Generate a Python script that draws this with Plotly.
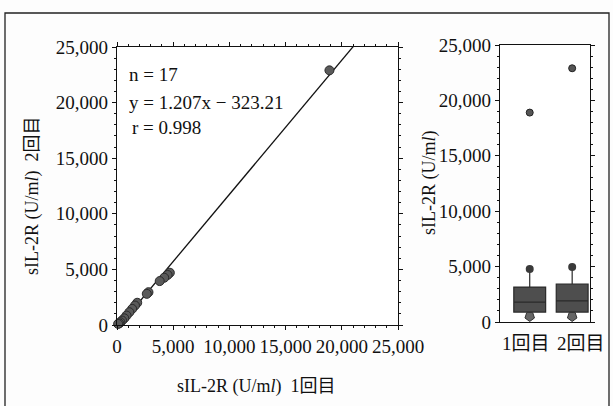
import plotly.graph_objects as go

W, H = 613, 406

# --- data ---
first_visit = [18900, 4700, 4500, 4200, 3800, 2800, 2650, 1800, 1600, 1350, 1100, 850, 650, 450, 300, 200, 100]
second_visit = [22900, 4700, 4500, 4250, 3950, 2950, 2800, 2000, 1750, 1450, 1150, 850, 600, 400, 250, 150, 100]
slope = 1.207
intercept = -323.21
line_x = [268, 25000]

box_cats = [0, 1]
box_labels = ["1回目", "2回目"]
box_q1 = [900, 900]
box_median = [1800, 1900]
box_q3 = [3150, 3430]
box_low = [500, 500]
box_high = [4780, 4960]
box_outliers = [18900, 22900]

tick_vals = [0, 5000, 10000, 15000, 20000, 25000]
tick_text = ["0", "5,000", "10,000", "15,000", "20,000", "25,000"]

SERIF = "Liberation Serif, Noto Sans CJK JP"
JP = "Liberation Serif, Noto Sans CJK JP"

def fx(px):
    return px / W

def fy(py):
    return 1 - py / H

fig = go.Figure()

# regression line
fig.add_trace(go.Scatter(
    x=line_x, y=[slope * v + intercept for v in line_x],
    mode="lines", line=dict(color="#111", width=1.3),
    xaxis="x", yaxis="y", showlegend=False, hoverinfo="skip", cliponaxis=True))

# scatter points
fig.add_trace(go.Scatter(
    x=first_visit, y=second_visit, mode="markers",
    marker=dict(size=9, color="#5a5a5a", line=dict(color="#2a2a2a", width=1)),
    xaxis="x", yaxis="y", showlegend=False, cliponaxis=False))

# box plot
fig.add_trace(go.Box(
    x=box_cats, q1=box_q1, median=box_median, q3=box_q3,
    lowerfence=box_low, upperfence=box_high,
    fillcolor="#4e4e4e", line=dict(color="#2a2a2a", width=1.2),
    whiskerwidth=0, width=0.75, boxpoints=False,
    xaxis="x2", yaxis="y2", showlegend=False))

# whisker end markers
fig.add_trace(go.Scatter(
    x=box_cats, y=box_high, mode="markers",
    marker=dict(size=8, color="#3a3a3a", symbol="circle"),
    xaxis="x2", yaxis="y2", showlegend=False, cliponaxis=False))
fig.add_trace(go.Scatter(
    x=box_cats, y=box_low, mode="markers",
    marker=dict(size=10, color="#666", symbol="pentagon", angle=180,
                line=dict(color="#333", width=1)),
    xaxis="x2", yaxis="y2", showlegend=False, cliponaxis=False))
# outliers
fig.add_trace(go.Scatter(
    x=box_cats, y=box_outliers, mode="markers",
    marker=dict(size=7, color="#555", line=dict(color="#222", width=1)),
    xaxis="x2", yaxis="y2", showlegend=False, cliponaxis=False))

axis_common = dict(
    showgrid=False, zeroline=False, showline=True, linecolor="#111", linewidth=1.3,
    mirror="ticks", ticks="outside", ticklen=4, tickcolor="#111", tickangle=0,
    automargin=False,
    tickfont=dict(family=SERIF, size=19, color="#111"),
)

fig.update_layout(
    width=W, height=H,
    margin=dict(l=0, r=0, t=0, b=0, autoexpand=False),
    paper_bgcolor="#fdfdfd", plot_bgcolor="#ffffff",
    xaxis=dict(domain=[fx(117), fx(398)], range=[0, 25000], anchor="y",
               tickvals=tick_vals, ticktext=tick_text,
               minor=dict(dtick=1000, ticklen=2, ticks="outside", tickcolor="#111"),
               **axis_common),
    yaxis=dict(domain=[fy(325), fy(47)], range=[0, 25000], anchor="x",
               tickvals=tick_vals, ticktext=tick_text,
               minor=dict(dtick=1000, ticklen=2, ticks="outside", tickcolor="#111"),
               **axis_common),
    xaxis2=dict(domain=[fx(500), fx(590)], range=[-0.7, 1.42], anchor="y2",
                showticklabels=False, automargin=False,
                showgrid=False, zeroline=False, showline=True, linecolor="#111", linewidth=1.3,
                mirror=True, ticks=""),
    yaxis2=dict(domain=[fy(322), fy(45)], range=[0, 25000], anchor="x2",
                tickvals=tick_vals, ticktext=tick_text,
                minor=dict(dtick=1000, ticklen=2, ticks="outside", tickcolor="#111"),
                **axis_common),
)

ann_font = dict(family=SERIF, size=19, color="#111")
anns = [
    ("n = 17", 127, 75),
    ("y = 1.207x − 323.21", 127, 102),
    ("r = 0.998", 130, 127),
]
for txt, px, py in anns:
    fig.add_annotation(text=txt, x=fx(px), y=fy(py), xref="paper", yref="paper",
                       xanchor="left", yanchor="middle", showarrow=False, font=ann_font)

# box category labels
for lab, px in zip(box_labels, [526, 581]):
    fig.add_annotation(text=lab, x=fx(px), y=fy(343), xref="paper", yref="paper",
                       xanchor="center", yanchor="middle",
                       showarrow=False, font=dict(family=JP, size=19, color="#111"))

# axis titles
fig.add_annotation(text="sIL-2R (U/m<i>l</i>)  1回目", x=fx(256), y=fy(386),
                   xref="paper", yref="paper", showarrow=False,
                   xanchor="center", yanchor="middle",
                   font=dict(family=JP, size=18, color="#111"))
fig.add_annotation(text="sIL-2R (U/m<i>l</i>)  2回目", x=fx(32), y=fy(196),
                   xref="paper", yref="paper", showarrow=False, textangle=-90,
                   xanchor="center", yanchor="middle",
                   font=dict(family=JP, size=18, color="#111"))
fig.add_annotation(text="sIL-2R (U/m<i>l</i>)", x=fx(429), y=fy(183),
                   xref="paper", yref="paper", showarrow=False, textangle=-90,
                   xanchor="center", yanchor="middle",
                   font=dict(family=JP, size=18, color="#111"))

# outer frame
fig.add_shape(type="rect", xref="paper", yref="paper",
              x0=fx(5), x1=fx(609), y0=fy(412), y1=fy(13),
              line=dict(color="#222", width=1.3))

fig.write_html("out.html")
